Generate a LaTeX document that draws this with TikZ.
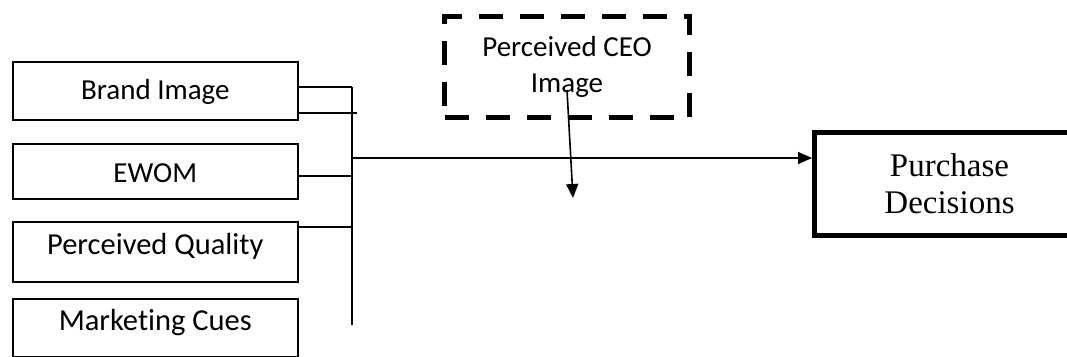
\documentclass[tikz,border=0pt]{standalone}
\usepackage{fontspec}
\setmainfont[Ligatures=NoCommon]{Carlito}
\newfontfamily\pdfont{Liberation Serif}
\usetikzlibrary{arrows.meta,calc}
\begin{document}
\begin{tikzpicture}[x=1pt,y=-1pt,
  lbox/.style={draw,line width=1.6pt,anchor=north west,minimum width=285pt,inner sep=0pt,font=\fontsize{29}{35}\selectfont},
  conn/.style={line width=1.6pt},
  ceobox/.style={draw,line width=5pt,dash pattern=on 24pt off 17pt,anchor=north west,minimum width=245pt,minimum height=101pt,inner sep=0pt,align=center,font=\fontsize{29}{36}\selectfont},
  pdbox/.style={draw,line width=5pt,anchor=north west,minimum width=270pt,minimum height=103pt,inner sep=0pt,align=center,font=\pdfont\fontsize{33}{37}\selectfont},
  tip/.style={-{Triangle[length=14pt,width=12pt]}}]
\useasboundingbox (0,0) rectangle (1067,356);
% left boxes
\node[lbox,text height=38pt,text depth=20pt] (bi) at (12,61) {Brand Image};
\node[lbox,text height=39pt,text depth=16pt] (ew) at (12,143) {EWOM};
\node[lbox,text height=33pt,text depth=27pt,font=\fontsize{30.5}{35}\selectfont] (pq) at (12,221) {Perceived Quality};
\node[lbox,text height=32pt,text depth=26pt,font=\fontsize{30.5}{35}\selectfont] (mc) at (12,298) {Marketing Cues};
% CEO box
\node[ceobox] (ceo) at (442,14) {Perceived CEO\\Image};
% Purchase decisions
\node[pdbox] (pd) at (812,130) {Purchase\\Decisions};
% bus
\coordinate (bustop) at (352,87);
\coordinate (busbot) at (352,325);
\coordinate (bus2) at (357,113);
\coordinate (busmid) at (352,158);
\coordinate (ceoa) at (567,90);
\coordinate (ceob) at (573,198);
\draw[conn] (bustop) -- (busbot);
\draw[conn] (bi.east |- bustop) -- (bustop);
\draw[conn] ($(bi.east |- bus2)+(-2,0)$) -- (bus2);
\draw[conn] (ew.east |- 352,176) -- (352,176);
\draw[conn] (pq.east |- 352,227) -- (352,227);
\draw[conn,tip] (busmid) -- (busmid -| pd.west);
\draw[conn,tip] (ceoa) -- (ceob);
\end{tikzpicture}
\end{document}
